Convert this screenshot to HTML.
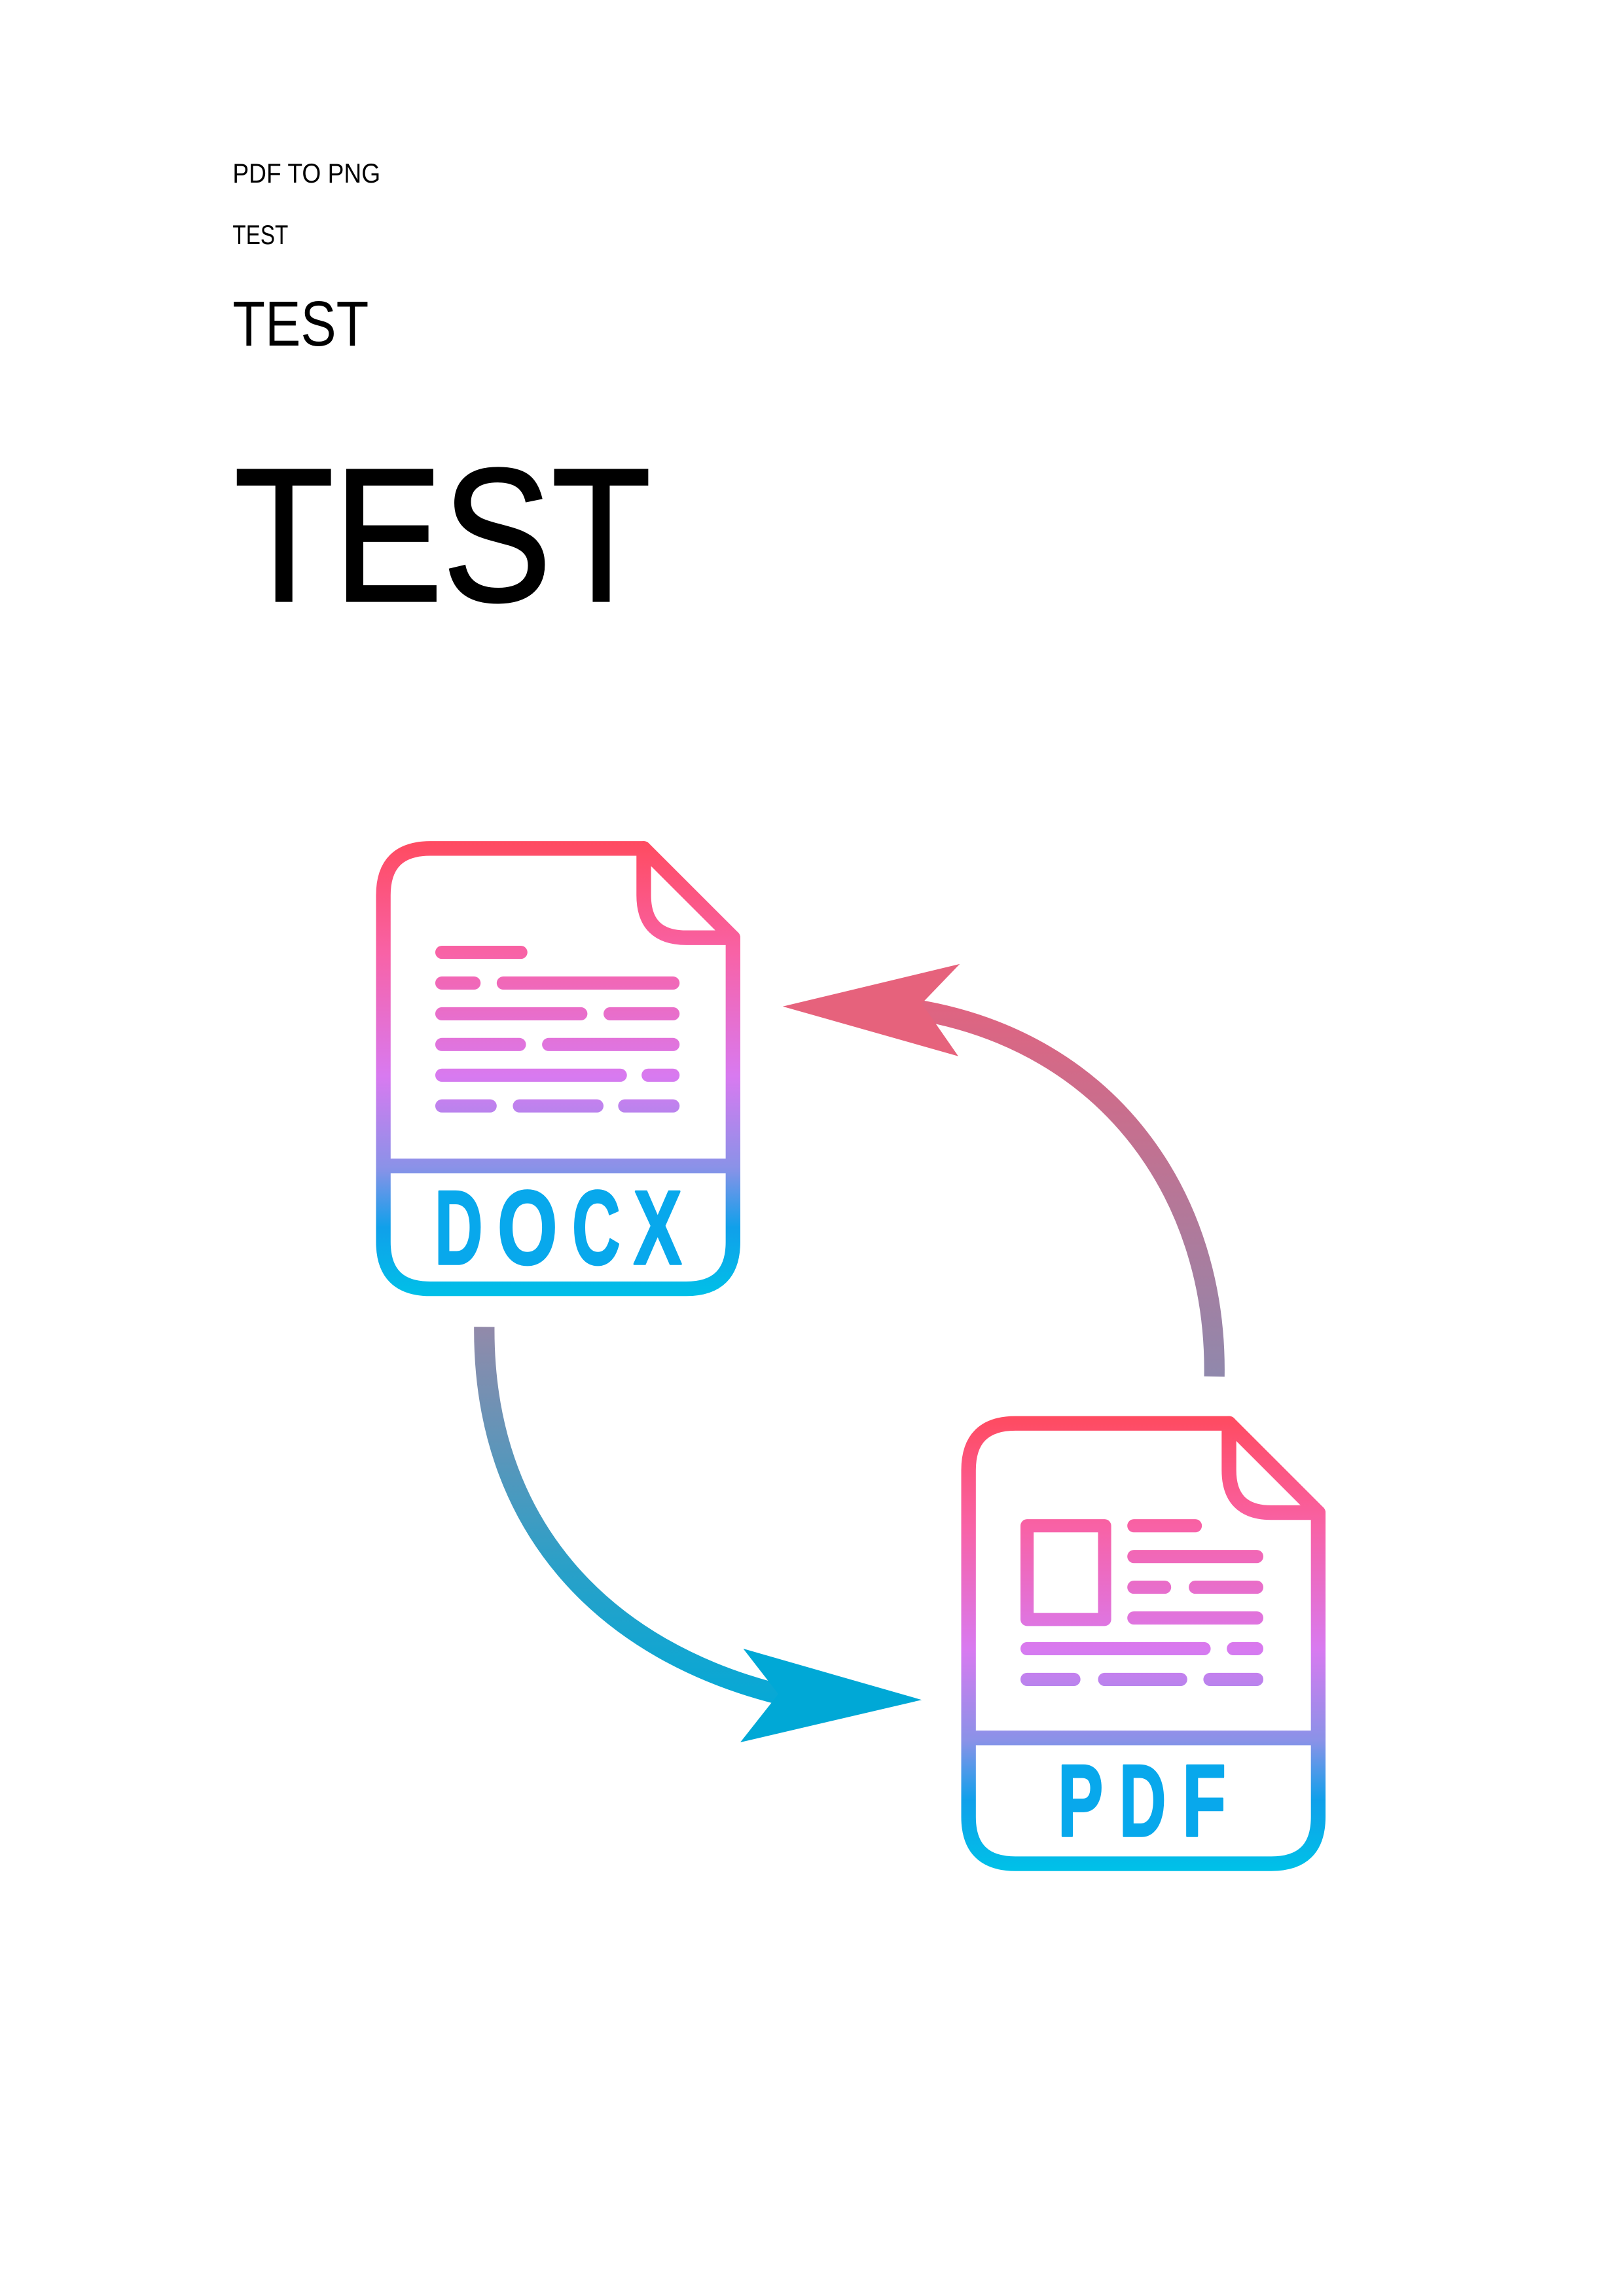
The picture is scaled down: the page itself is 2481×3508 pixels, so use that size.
<!DOCTYPE html>
<html><head><meta charset="utf-8"><style>html,body{margin:0;padding:0;background:#fff}svg{display:block}</style></head>
<body>
<svg width="2481" height="3508" viewBox="0 0 1110 1569.5" xmlns="http://www.w3.org/2000/svg">
<defs>
<linearGradient id="g1" gradientUnits="userSpaceOnUse" x1="0" y1="573" x2="0" y2="886">
<stop offset="0" stop-color="#ff4a5e"/><stop offset="0.25" stop-color="#f862a6"/><stop offset="0.52" stop-color="#d87af0"/><stop offset="0.72" stop-color="#8a92e8"/><stop offset="0.85" stop-color="#10a0ea"/><stop offset="1" stop-color="#00c0e8"/>
</linearGradient>
<linearGradient id="g2" gradientUnits="userSpaceOnUse" x1="0" y1="966" x2="0" y2="1277">
<stop offset="0" stop-color="#ff4a5e"/><stop offset="0.25" stop-color="#f862a6"/><stop offset="0.52" stop-color="#d87af0"/><stop offset="0.72" stop-color="#8a92e8"/><stop offset="0.85" stop-color="#10a0ea"/><stop offset="1" stop-color="#00c0e8"/>
</linearGradient>
<linearGradient id="ga" gradientUnits="userSpaceOnUse" x1="0" y1="940" x2="0" y2="660">
<stop offset="0" stop-color="#9088ac"/><stop offset="1" stop-color="#e8607c"/>
</linearGradient>
<linearGradient id="gb" gradientUnits="userSpaceOnUse" x1="0" y1="907" x2="0" y2="1180">
<stop offset="0" stop-color="#928aaa"/><stop offset="0.6" stop-color="#2aa0c8"/><stop offset="1" stop-color="#00aad8"/>
</linearGradient>
</defs>
<g font-family="'Liberation Sans',sans-serif" fill="#000">
<text x="159" y="124.8" font-size="18.8" textLength="101" lengthAdjust="spacingAndGlyphs">PDF TO PNG</text>
<text x="159" y="166.9" font-size="18.8" textLength="38" lengthAdjust="spacingAndGlyphs">TEST</text>
<text x="159" y="236.2" font-size="43.4" textLength="93" lengthAdjust="spacingAndGlyphs">TEST</text>
<text x="160" y="410.7" font-size="130" textLength="285" lengthAdjust="spacingAndGlyphs" stroke="#000" stroke-width="1.5">TEST</text>
</g>
<!-- DOCX icon -->
<g fill="none" stroke="url(#g1)" stroke-width="10" stroke-linejoin="round" stroke-linecap="round">
<path d="M262 612 Q262 580 294 580 L440 580 L501 641 L501 849 Q501 881 469 881 L294 881 Q262 881 262 849 Z"/>
<path d="M440 580 L440 612 Q440 641 469 641 L501 641"/>
<path d="M262 797 L501 797" stroke-linecap="butt"/>
<path d="M302 651H356M302 672H324M344 672H460M302 693H397M417 693H460M302 714H355M375 714H460M302 735H424M443 735H460M302 756H335M355 756H408M427 756H460" stroke-width="9"/>
</g>
<g font-family="'Liberation Sans',sans-serif" font-weight="bold" font-size="72" fill="#08a8ec" stroke="#08a8ec" stroke-width="1.5" stroke-linejoin="round">
<text x="297" y="864" textLength="33" lengthAdjust="spacingAndGlyphs">D</text>
<text x="340" y="864" textLength="41" lengthAdjust="spacingAndGlyphs">O</text>
<text x="391" y="864" textLength="33" lengthAdjust="spacingAndGlyphs">C</text>
<text x="433" y="864" textLength="33" lengthAdjust="spacingAndGlyphs">X</text>
<text x="723" y="1255" font-size="70" textLength="31" lengthAdjust="spacingAndGlyphs">P</text>
<text x="765" y="1255" font-size="70" textLength="32" lengthAdjust="spacingAndGlyphs">D</text>
<text x="808" y="1255" font-size="70" textLength="30" lengthAdjust="spacingAndGlyphs">F</text>
</g>
<!-- PDF icon -->
<g fill="none" stroke="url(#g2)" stroke-width="10" stroke-linejoin="round" stroke-linecap="round">
<path d="M662 1005 Q662 973 694 973 L840 973 L901 1034 L901 1242 Q901 1274 869 1274 L694 1274 Q662 1274 662 1242 Z"/>
<path d="M840 973 L840 1005 Q840 1034 869 1034 L901 1034"/>
<path d="M662 1188 L901 1188" stroke-linecap="butt"/>
<rect x="702" y="1043" width="53" height="64" stroke-width="9"/>
<path d="M775 1043H817M775 1064H859M775 1085H796M817 1085H859M775 1106H859M702 1127H823M843 1127H859M702 1148H734M755 1148H807M827 1148H859" stroke-width="9"/>
</g>
<!-- arrows -->
<path d="M830 941 C832 820 760 712 625 690" fill="none" stroke="url(#ga)" stroke-width="14"/>
<polygon points="535,688 656,659 630,686 655,722" fill="#e6627c"/>
<path d="M331 907 C330 1040 410 1130 540 1160" fill="none" stroke="url(#gb)" stroke-width="14"/>
<polygon points="630,1162 508,1127 532,1158 506,1191" fill="#00a8d6"/>
</svg>
</body></html>
